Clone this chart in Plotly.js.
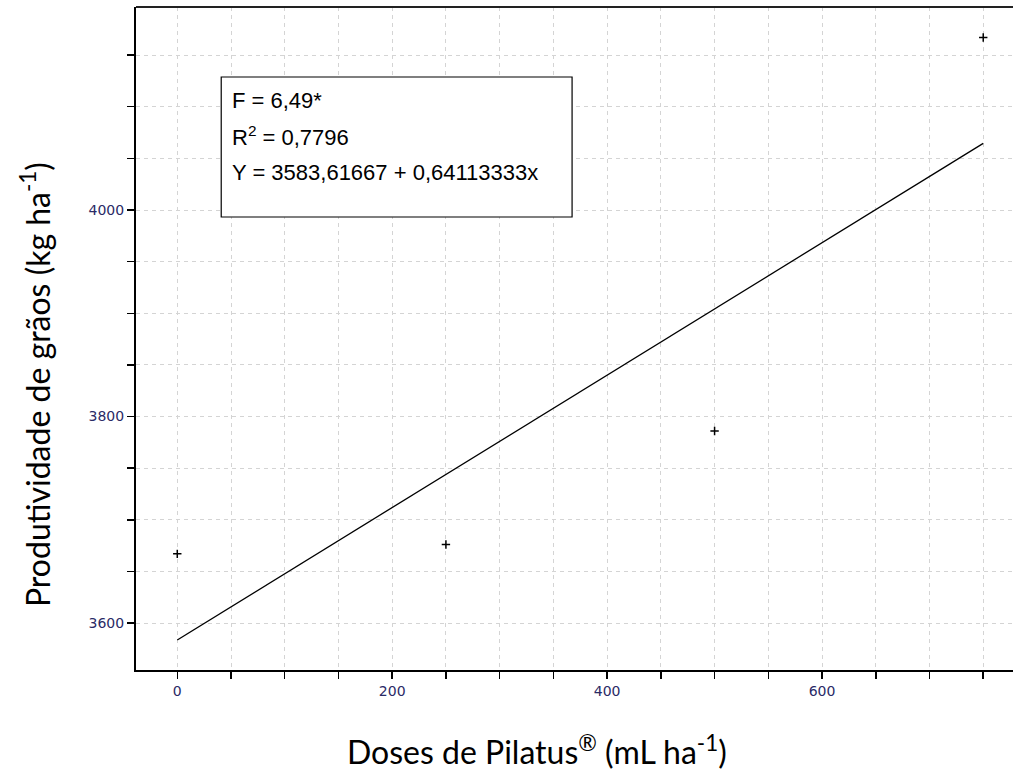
<!DOCTYPE html>
<html>
<head>
<meta charset="utf-8">
<script src="https://cdn.plot.ly/plotly-3.0.1.min.js"></script>
<style>html,body{margin:0;padding:0;background:#fff;}#chart{width:1013px;height:775px;}</style>
</head>
<body>
<div id="chart"></div>
<script>
// Observed data
const doses = [0, 250, 500, 750];
const yields = [3667, 3676, 3786, 4167];
// Fitted regression line (Y = 3583,61667 + 0,64113333x) at its ends
const fitX = [0, 750];
const fitY = [3583.6, 4064.5];
// Tick labels
const xTickVals = [0, 200, 400, 600];
const xTickText = ['0', '200', '400', '600'];
const yTickVals = [3600, 3800, 4000];
const yTickText = ['3600', '3800', '4000'];
// Equation box text
const boxLines = ['F = 6,49*', 'R<sup>2</sup> = 0,7796', 'Y = 3583,61667 + 0,64113333x'];
const boxLineY = [4106, 4072, 4036];

const gridCol = '#d4d4d4';
const tickFont = {family: 'DejaVu Sans, Tahoma, sans-serif', size: 14, color: '#2a2a66'};

const traces = [
  {x: fitX, y: fitY, mode: 'lines', line: {color: '#000', width: 1.3}, hoverinfo: 'skip'},
  {x: doses, y: yields, mode: 'markers', marker: {symbol: 'cross-thin', size: 6, color: '#000', line: {color: '#000', width: 1.5}}}
];

const annotations = boxLines.map((t, i) => ({
  x: 49, y: boxLineY[i], xref: 'x', yref: 'y', text: t, showarrow: false,
  xanchor: 'left', yanchor: 'middle', font: {family: 'Liberation Sans, Arial, sans-serif', size: 22, color: '#000'}
}));
annotations.push({
  x: 0.457, y: -0.121, xref: 'paper', yref: 'paper', text: 'Doses de Pilatus<sup>®</sup> (mL ha<sup>-1</sup>)',
  showarrow: false, xanchor: 'center', yanchor: 'middle', font: {family: 'Lato, sans-serif', size: 32, color: '#000'}
});
annotations.push({
  x: -0.115, y: 0.43, xref: 'paper', yref: 'paper', text: 'Produtividade de grãos (kg ha<sup>-1</sup>)',
  showarrow: false, textangle: -90, xanchor: 'center', yanchor: 'middle', font: {family: 'Lato, sans-serif', size: 32, color: '#000'}
});

const layout = {
  width: 1013, height: 775,
  margin: {l: 136, r: 0, t: 7, b: 105, pad: 0},
  paper_bgcolor: '#fff', plot_bgcolor: '#fff',
  showlegend: false,
  xaxis: {
    range: [-38.4, 777.7], tickvals: xTickVals, ticktext: xTickText,
    ticks: 'outside', ticklen: 7, tickwidth: 1.5, tickcolor: '#000',
    showline: true, linecolor: '#000', linewidth: 2,
    showgrid: true, gridcolor: gridCol, griddash: '4px,4px', gridwidth: 1,
    zeroline: false, tickfont: tickFont,
    minor: {dtick: 50, tick0: 0, ticks: 'outside', ticklen: 7, tickwidth: 1.5, tickcolor: '#000', showgrid: true, gridcolor: gridCol, griddash: '4px,4px', gridwidth: 1}
  },
  yaxis: {
    range: [3554.5, 4196.6], tickvals: yTickVals, ticktext: yTickText,
    ticks: 'outside', ticklen: 7, tickwidth: 1.5, tickcolor: '#000',
    showline: true, linecolor: '#000', linewidth: 2,
    showgrid: true, gridcolor: gridCol, griddash: '4px,4px', gridwidth: 1,
    zeroline: false, tickfont: tickFont,
    minor: {dtick: 50, tick0: 3600, ticks: 'outside', ticklen: 7, tickwidth: 1.5, tickcolor: '#000', showgrid: true, gridcolor: gridCol, griddash: '4px,4px', gridwidth: 1}
  },
  shapes: [
    {type: 'line', xref: 'paper', yref: 'paper', x0: 0, x1: 1, y0: 1, y1: 1, line: {color: '#222', width: 2}},
    {type: 'rect', xref: 'x', yref: 'y', x0: 40.9, x1: 367.4, y0: 3993.2, y1: 4128.8, line: {color: '#000', width: 1.2}, fillcolor: '#fff', layer: 'above'}
  ],
  annotations: annotations
};

Plotly.newPlot('chart', traces, layout, {displayModeBar: false, staticPlot: true});
</script>
</body>
</html>
